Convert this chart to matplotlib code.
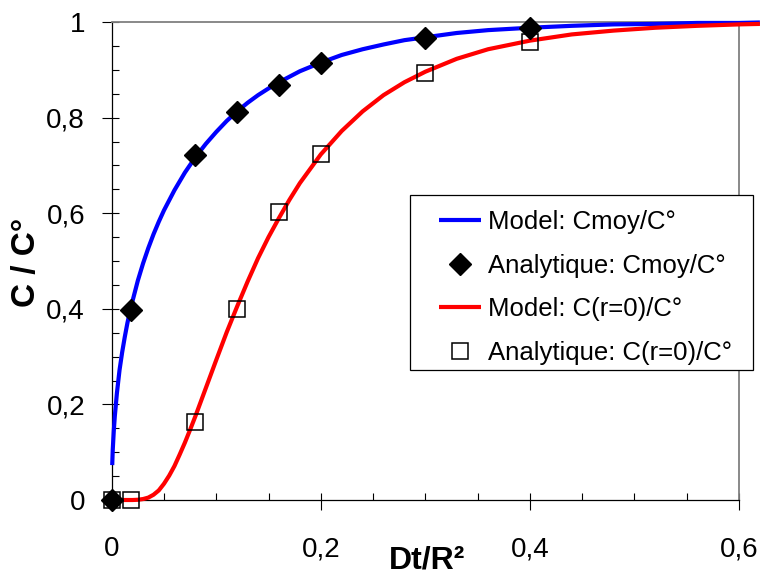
import matplotlib
matplotlib.use("Agg")
from matplotlib import pyplot as plt
from matplotlib.patches import Rectangle
from matplotlib.ticker import FixedLocator, MultipleLocator

plt.rcParams['font.family'] = ['Liberation Sans', 'DejaVu Sans']

# Model curve, mean concentration (blue)
model_moy_t = [0.0005, 0.001, 0.002, 0.003, 0.005, 0.0075, 0.01, 0.0125, 0.015, 0.018,
               0.02, 0.025, 0.03, 0.035, 0.04, 0.045, 0.05, 0.06, 0.07, 0.08,
               0.09, 0.10, 0.11, 0.12, 0.13, 0.14, 0.15, 0.16, 0.18, 0.20,
               0.22, 0.24, 0.26, 0.28, 0.30, 0.33, 0.36, 0.40, 0.44, 0.48,
               0.52, 0.56, 0.60, 0.62]
model_moy_c = [0.073, 0.105, 0.145, 0.176, 0.224, 0.272, 0.309, 0.341, 0.370, 0.400,
               0.417, 0.459, 0.495, 0.527, 0.556, 0.582, 0.606, 0.648, 0.685, 0.717,
               0.745, 0.770, 0.793, 0.813, 0.831, 0.847, 0.861, 0.874, 0.897, 0.915,
               0.931, 0.943, 0.953, 0.962, 0.968, 0.977, 0.983, 0.988, 0.992, 0.995,
               0.996, 0.998, 0.998, 0.999]

# Model curve, centre concentration (red)
model_r0_t = [0.005, 0.01, 0.02, 0.025, 0.03, 0.035, 0.04, 0.045, 0.05, 0.055,
              0.06, 0.065, 0.07, 0.075, 0.08, 0.09, 0.10, 0.11, 0.12, 0.13,
              0.14, 0.15, 0.16, 0.17, 0.18, 0.20, 0.22, 0.24, 0.26, 0.28,
              0.30, 0.33, 0.36, 0.40, 0.44, 0.48, 0.52, 0.56, 0.60, 0.62]
model_r0_c = [0.0, 0.0, 0.0, 0.0005, 0.002, 0.005, 0.011, 0.020, 0.034, 0.051,
              0.071, 0.095, 0.120, 0.147, 0.175, 0.234, 0.293, 0.351, 0.405, 0.457,
              0.506, 0.550, 0.590, 0.628, 0.663, 0.723, 0.772, 0.813, 0.847, 0.874,
              0.896, 0.923, 0.943, 0.961, 0.974, 0.982, 0.988, 0.992, 0.995, 0.996]

# Analytic points
ana_t = [0.0, 0.018, 0.08, 0.12, 0.16, 0.20, 0.30, 0.40]
ana_moy = [0.0, 0.397, 0.721, 0.811, 0.868, 0.914, 0.967, 0.988]
ana_r0 = [0.0, 0.0, 0.163, 0.400, 0.602, 0.723, 0.894, 0.959]

x_ticks = [0.0, 0.2, 0.4, 0.6]
x_labels = ['0', '0,2', '0,4', '0,6']
y_ticks = [0.0, 0.2, 0.4, 0.6, 0.8, 1.0]
y_labels = ['0', '0,2', '0,4', '0,6', '0,8', '1']

W, H = 777, 576
fig = plt.figure(figsize=(W / 100, H / 100), dpi=100)
ax = fig.add_axes([111.7 / W, 1 - 500 / H, (739 - 111.7) / W, (500 - 22) / H])

ax.plot(model_moy_t, model_moy_c, color='#0000ff', lw=3.0, clip_on=False,
        solid_capstyle='butt', zorder=3, label='Model: Cmoy/C°')
ax.plot(ana_t, ana_moy, ls='none', marker='D', ms=11, color='black',
        clip_on=False, zorder=5, label='Analytique: Cmoy/C°')
ax.plot(model_r0_t, model_r0_c, color='#ff0000', lw=3.0, clip_on=False,
        solid_capstyle='butt', zorder=4, label='Model: C(r=0)/C°')
ax.plot(ana_t, ana_r0, ls='none', marker='s', ms=12, mfc='none', mec='black',
        mew=1.1, clip_on=False, zorder=6, label='Analytique: C(r=0)/C°')

ax.set_xlim(0, 0.6)
ax.set_ylim(0, 1)

ax.xaxis.set_major_locator(FixedLocator(x_ticks))
ax.set_xticklabels(x_labels)
ax.yaxis.set_major_locator(FixedLocator(y_ticks))
ax.set_yticklabels(y_labels)
ax.xaxis.set_minor_locator(MultipleLocator(0.05))
ax.yaxis.set_minor_locator(MultipleLocator(0.05))
ax.xaxis.remove_overlapping_locs = False
ax.yaxis.remove_overlapping_locs = False

ax.tick_params(which='major', direction='out', length=7.2, width=0.8,
               labelsize=20, color='black')
ax.tick_params(axis='x', which='major', pad=19)
ax.tick_params(axis='y', which='major', pad=12)
ax.tick_params(which='minor', direction='in', length=4.8, width=0.8, color='black')

for side in ['left', 'bottom']:
    ax.spines[side].set_color('black')
    ax.spines[side].set_linewidth(0.9)
for side in ['top', 'right']:
    ax.spines[side].set_color('#808080')
    ax.spines[side].set_linewidth(1.3)

ax.set_xlabel('Dt/R²', fontsize=23, fontweight='bold', va='bottom')
ax.xaxis.set_label_coords(0.5034, -0.1585)
ax.set_ylabel('C / C°', fontsize=24, fontweight='bold', va='center')
ax.yaxis.set_label_coords(-0.1366, 0.498)

# legend box (Excel style, wider padding on the sides)
fig.patches.append(Rectangle((410 / W, 1 - 370 / H), (753 - 410) / W, (370 - 195) / H,
                             transform=fig.transFigure, facecolor='white',
                             edgecolor='black', lw=0.9, zorder=10))
leg = fig.legend(handles=ax.get_lines(), loc='upper left',
                 bbox_to_anchor=(439 / W, 1 - 210 / H), frameon=False,
                 fontsize=18.5, borderpad=0, borderaxespad=0,
                 handlelength=1.65, handletextpad=0.24, labelspacing=0.76)
leg.set_zorder(11)

fig.savefig('out.png', dpi=100)
